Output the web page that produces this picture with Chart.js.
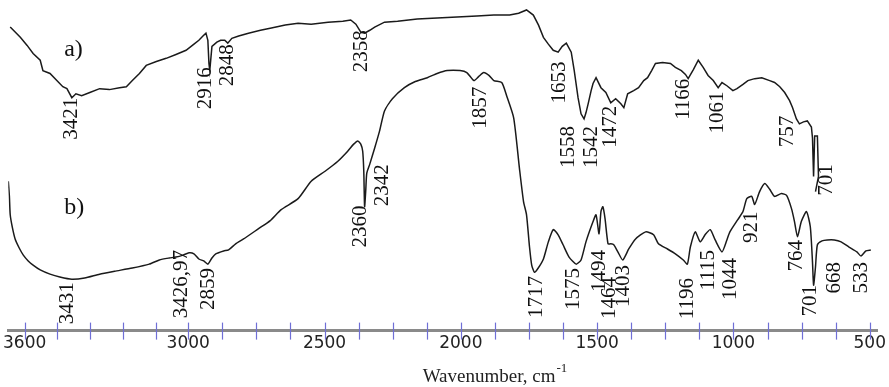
<!DOCTYPE html>
<html>
<head>
<meta charset="utf-8">
<script src="https://cdn.jsdelivr.net/npm/chart.js@4"></script>
<style>
  html, body { margin: 0; padding: 0; background: #fff; }
  #wrap { width: 889px; height: 387px; }
</style>
</head>
<body>
<div id="wrap"><canvas id="ftir"></canvas></div>
<script>
// spectrum a) : wavenumber (cm-1) / transmittance (a.u.)
const waveA = [3653,3634,3616,3591,3569,3543,3533,3507,3482,3460,3445,3427,3412,3391,3361,3325,3289,3252,3227,3205,
  3179,3154,3117,3081,3045,3008,2979,2961,2946,2935,2928,2924,2921,2913,2895,2881,2866,2855,2840,2815,
  2779,2735,2695,2644,2597,2549,2487,2433,2404,2385,2367,2353,2334,2316,2280,2232,2160,2087,2014,1941,
  1879,1821,1788,1759,1734,1715,1697,1679,1661,1643,1628,1613,1595,1584,1570,1559,1548,1541,1533,1522,
  1515,1504,1486,1468,1450,1432,1413,1402,1388,1366,1348,1329,1315,1300,1286,1260,1231,1213,1191,1176,
  1166,1147,1129,1111,1093,1074,1056,1042,1024,1002,987,965,947,922,896,867,849,830,812,794,
  783,769,758,743,729,714,710,706,702,692,688,699];
const transA = [94.1,92.5,90.9,88.4,85.9,83.8,80.6,79.7,77.5,75.6,75.0,72.2,73.4,72.8,73.8,75.0,74.7,75.3,75.6,77.5,
  79.7,82.2,83.4,84.4,85.6,86.9,88.8,90.0,91.3,92.2,90.0,82.8,80.6,88.1,89.4,90.0,90.0,89.1,90.6,91.3,
  92.2,93.1,93.8,94.7,95.3,95.0,95.6,95.9,96.3,95.0,92.5,92.2,93.1,94.1,95.6,95.9,96.6,96.9,97.2,97.5,
  97.8,97.8,98.4,99.4,97.8,94.7,90.9,88.8,86.9,86.3,88.1,89.1,86.3,80.6,72.2,67.2,65.6,67.5,70.3,74.4,
  76.6,78.4,75.3,73.8,70.6,71.9,70.3,69.1,73.4,74.4,75.3,77.5,78.4,80.6,82.8,83.1,82.8,81.6,80.6,79.4,
  78.1,80.9,83.8,81.6,79.1,77.5,75.3,76.9,75.9,74.4,75.0,76.3,77.5,78.1,78.4,77.5,76.9,75.6,73.8,71.3,
  69.1,65.6,64.1,64.7,65.0,63.1,59.7,47.8,60.3,60.3,47.8,43.1];

// spectrum b)
const waveB = [3660,3656,3653,3645,3635,3620,3605,3587,3569,3543,3507,3471,3427,3380,3325,3270,3205,3143,3106,3070,
  3045,3019,2997,2979,2961,2943,2928,2913,2899,2870,2852,2826,2797,2742,2699,2659,2597,2549,2498,2451,
  2415,2393,2378,2367,2360,2356,2353,2349,2345,2334,2316,2298,2280,2251,2207,2167,2123,2087,2050,2003,
  1978,1952,1934,1916,1897,1879,1850,1832,1806,1785,1770,1759,1748,1740,1730,1716,1697,1679,1661,1643,
  1625,1603,1577,1559,1541,1515,1504,1493,1486,1479,1471,1460,1450,1439,1424,1406,1384,1359,1322,1293,
  1275,1242,1213,1184,1169,1158,1140,1122,1104,1085,1067,1042,1024,1013,984,965,951,933,922,904,
  885,867,849,824,805,787,776,765,751,732,718,710,706,699,692,675,656,630,605,576,
  547,532,514,496];
const transB = [46.3,41.6,35.9,31.9,28.4,25.6,23.4,21.6,20.3,18.8,17.5,16.6,15.9,16.3,17.5,18.4,19.4,20.6,21.9,22.5,
  22.8,23.4,24.1,23.8,22.2,21.6,20.6,22.5,23.8,24.7,25.0,26.9,28.4,31.6,34.1,37.5,40.9,46.3,49.4,52.5,
  55.6,57.8,58.8,57.8,55.6,49.4,38.4,43.1,48.8,51.6,56.6,61.9,68.1,71.9,75.3,77.2,78.4,79.7,80.6,80.6,
  80.0,77.5,78.8,80.0,79.1,77.5,76.9,72.8,65.9,50.3,40.0,35.9,25.9,20.3,18.1,19.4,22.2,27.5,31.3,29.7,
  26.6,22.8,20.6,21.9,27.5,33.8,35.9,30.0,36.9,38.4,34.7,26.9,26.9,26.6,24.4,21.9,25.3,28.4,30.6,29.7,
  26.9,25.3,23.8,21.9,20.6,25.9,30.6,27.5,29.7,31.3,28.1,24.4,28.1,30.6,34.4,36.9,40.9,41.6,39.1,43.1,
  45.6,43.8,41.6,42.5,41.9,37.8,33.8,29.1,33.8,36.9,32.2,21.3,14.1,19.7,26.6,27.8,28.1,28.1,27.5,25.9,
  24.4,23.1,24.7,25.0];

// peak annotations: text, wavenumber where the label sits, level of the label's top end
const peakTextA = ['3421','2916','2848','2358','1653','1558','1542','1472','1166','1061','757','701'];
const peakXA    = [3427, 2935, 2855, 2364, 1639, 1606, 1522, 1450, 1184, 1060, 801, 659];
const peakYA    = [72.2, 81.6, 88.8, 93.1, 83.4, 63.4, 63.4, 69.7, 78.1, 74.1, 66.6, 51.6];

const peakTextB = ['3431','3426,97','2859','2360','2342','1857','1717','1575','1494','1464','1403',
  '1196','1115','1044','921','764','701','668','533'];
const peakXB    = [3442, 3026, 2924, 2367, 2287, 1927, 1723, 1588, 1493, 1453, 1402,
  1169, 1093, 1009, 932, 768, 718, 630, 532];
const peakYB    = [15.0, 25.0, 19.4, 38.8, 51.6, 75.6, 16.9, 19.4, 25.0, 16.6, 20.3,
  16.3, 25.0, 22.5, 36.9, 28.1, 14.1, 21.3, 21.3];

// axis ticks
const tickValues = [3600,3480,3360,3240,3120,3000,2875,2750,2625,2500,2375,2250,2125,2000,
  1875,1750,1625,1500,1375,1250,1125,1000,875,750,625,500];
const tickLabels = [3600, 3000, 2500, 2000, 1500, 1000, 500];

const xTitle = 'Wavenumber, cm';
const xTitleSup = '-1';

const toPoints = (xs, ys) => xs.map((x, i) => ({ x: x, y: ys[i] }));

// vertical peak labels, curve tags, axis cross ticks and title
const annotate = {
  id: 'annotate',
  afterDraw(chart) {
    const { ctx, scales: { x, y }, chartArea } = chart;
    ctx.save();
    ctx.fillStyle = '#111';
    ctx.font = '21px "Liberation Serif", serif';
    ctx.textAlign = 'right';
    ctx.textBaseline = 'middle';
    const put = (txt, wx, wy) => {
      ctx.save();
      ctx.translate(x.getPixelForValue(wx), y.getPixelForValue(wy));
      ctx.rotate(-Math.PI / 2);
      ctx.fillText(txt, 0, 0);
      ctx.restore();
    };
    peakTextA.forEach((t, i) => put(t, peakXA[i], peakYA[i]));
    peakTextB.forEach((t, i) => put(t, peakXB[i], peakYB[i]));

    // series tags
    ctx.font = '24px "Liberation Serif", serif';
    ctx.textAlign = 'left';
    ctx.fillText('a)', x.getPixelForValue(3455), y.getPixelForValue(87));
    ctx.fillText('b)', x.getPixelForValue(3455), y.getPixelForValue(38));

    // tick marks crossing the axis line
    const yAx = chartArea.bottom;
    ctx.strokeStyle = '#6f6fd6';
    ctx.lineWidth = 1.2;
    x.ticks.forEach(t => {
      const px = Math.round(x.getPixelForValue(t.value)) + 0.5;
      ctx.beginPath();
      ctx.moveTo(px, yAx - 8);
      ctx.lineTo(px, yAx + 9);
      ctx.stroke();
    });

    // axis title with superscript
    ctx.fillStyle = '#222';
    ctx.font = '19px "Liberation Serif", serif';
    ctx.textBaseline = 'alphabetic';
    const tx = x.getPixelForValue(2140);
    ctx.fillText(xTitle, tx, 382);
    const w = ctx.measureText(xTitle).width;
    ctx.font = '13px "Liberation Serif", serif';
    ctx.fillText(xTitleSup, tx + w + 1, 372);
    ctx.restore();
  }
};

new Chart(document.getElementById('ftir'), {
  type: 'line',
  data: {
    datasets: [
      {
        label: 'a)',
        data: toPoints(waveA, transA),
        borderColor: '#1a1a1a',
        borderWidth: 1.5,
        pointRadius: 0,
        tension: 0
      },
      {
        label: 'b)',
        data: toPoints(waveB, transB),
        borderColor: '#1a1a1a',
        borderWidth: 1.5,
        pointRadius: 0,
        tension: 0.2
      }
    ]
  },
  options: {
    responsive: true,
    maintainAspectRatio: false,
    animation: false,
    layout: { padding: { left: 8, right: 5, top: 8, bottom: 30 } },
    plugins: {
      legend: { display: false },
      tooltip: { enabled: false }
    },
    scales: {
      x: {
        type: 'linear',
        reverse: true,
        min: 470,
        max: 3660,
        afterBuildTicks: scale => {
          scale.ticks = tickValues.map(v => ({ value: v }));
        },
        ticks: {
          autoSkip: false,
          maxRotation: 0,
          padding: 3,
          color: '#222',
          font: { family: '"DejaVu Sans", sans-serif', size: 17 },
          callback: v => tickLabels.includes(v) ? String(v) : ''
        },
        grid: { display: false, drawTicks: false },
        border: { display: true, color: '#8a8a8a', width: 3 }
      },
      y: {
        display: false,
        min: 0,
        max: 100
      }
    }
  },
  plugins: [annotate]
});
</script>
</body>
</html>
